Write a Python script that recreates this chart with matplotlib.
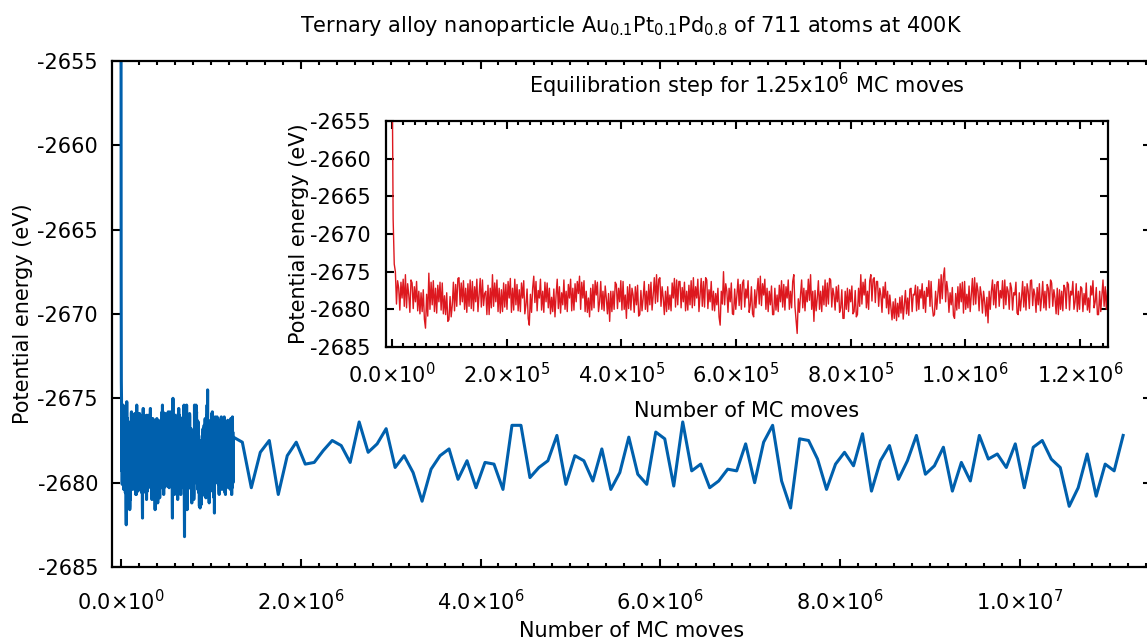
import numpy as np
import matplotlib
matplotlib.use("Agg")
import matplotlib.pyplot as plt
from matplotlib.ticker import MultipleLocator, FuncFormatter

plt.rcParams['font.family'] = ['DejaVu Sans']
plt.rcParams['axes.unicode_minus'] = False
plt.rcParams['mathtext.fontset'] = 'dejavusans'

# ---- data -------------------------------------------------------------
# Equilibration run (0 .. 1.25e6 MC moves), potential energy in eV
equil_energy = np.array([
    -2645.0, -2668.0, -2674.0,
    -2675.0, -2679.3, -2676.2, -2677.2, -2680.1, -2676.4, -2678.5, -2676.0, -2679.6,
    -2675.4, -2679.8, -2676.6, -2678.1, -2680.4, -2676.1, -2676.5, -2679.9, -2677.0,
    -2679.0, -2676.3, -2680.2, -2677.6, -2680.6, -2677.8, -2680.3, -2677.4, -2681.3,
    -2682.5, -2678.0, -2680.9, -2675.2, -2680.0, -2676.4, -2679.4, -2676.2, -2680.3,
    -2677.2, -2680.5, -2676.8, -2679.0, -2676.4, -2680.1, -2676.5, -2680.6, -2678.2,
    -2680.7, -2677.8, -2681.6, -2681.4, -2678.3, -2681.0, -2679.4, -2676.4, -2680.2,
    -2676.7, -2679.6, -2675.9, -2675.8, -2679.4, -2676.5, -2679.0, -2676.2, -2680.0,
    -2677.2, -2680.4, -2676.6, -2679.6, -2676.1, -2679.9, -2676.3, -2680.2, -2677.0,
    -2679.0, -2676.0, -2680.3, -2678.1, -2675.9, -2679.7, -2676.1, -2679.5, -2677.9,
    -2677.6, -2680.7, -2676.8, -2680.7, -2677.2, -2679.8, -2675.4, -2679.6, -2676.5,
    -2679.0, -2676.1, -2680.3, -2677.2, -2680.5, -2677.4, -2680.3, -2676.5, -2679.7,
    -2676.7, -2680.0, -2676.3, -2678.5, -2675.9, -2680.4, -2677.2, -2680.1, -2676.0,
    -2679.4, -2676.7, -2680.2, -2677.4, -2680.3, -2676.5, -2678.5, -2676.2, -2680.6,
    -2679.4, -2677.3, -2681.2, -2682.1, -2678.0, -2680.4, -2677.2, -2675.6, -2679.1,
    -2676.3, -2680.2, -2677.5, -2678.5, -2676.0, -2680.1, -2677.6, -2680.4, -2676.4,
    -2679.0, -2676.5, -2679.8, -2677.2, -2680.6, -2678.4, -2680.3, -2677.3, -2681.0,
    -2678.1, -2676.0, -2679.9, -2677.0, -2680.5, -2677.8, -2679.4, -2676.1, -2680.0,
    -2677.6, -2680.3, -2676.7, -2678.5, -2676.0, -2680.2, -2677.2, -2680.1, -2676.6,
    -2679.0, -2676.3, -2677.9, -2675.6, -2680.0, -2676.4, -2678.5, -2676.2, -2680.3,
    -2677.6, -2680.4, -2678.5, -2681.0, -2677.2, -2680.1, -2676.7, -2679.8, -2676.2,
    -2678.1, -2676.4, -2680.3, -2679.0, -2676.3, -2680.0, -2677.6, -2680.2, -2676.9,
    -2678.5, -2680.6, -2677.9, -2681.6, -2677.6, -2680.3, -2677.6, -2680.0, -2676.4,
    -2676.7, -2679.9, -2677.2, -2679.0, -2676.2, -2680.1, -2676.3, -2680.0, -2678.1,
    -2681.2, -2677.0, -2679.9, -2676.7, -2680.1, -2677.2,
    -2678.1, -2680.4, -2677.0, -2679.4, -2676.8, -2680.9, -2680.7, -2677.5, -2680.2,
    -2678.5, -2676.3, -2680.0, -2677.6, -2680.3, -2676.7, -2679.4, -2676.4, -2680.1,
    -2678.1, -2675.8, -2679.2, -2675.4, -2679.0, -2676.0, -2675.8, -2679.6, -2677.0,
    -2678.5, -2680.7, -2677.6, -2680.3, -2677.0, -2680.0, -2678.1, -2680.2, -2676.5,
    -2678.5, -2675.9, -2679.7, -2676.1, -2679.4, -2676.3, -2676.3, -2679.8, -2677.1,
    -2679.0, -2676.4, -2680.2, -2677.6, -2680.1, -2676.8, -2679.4, -2676.2, -2679.8,
    -2675.8, -2679.5, -2677.0, -2678.5, -2676.0, -2680.3, -2678.1, -2675.9, -2679.6,
    -2676.3, -2679.7, -2675.8, -2676.1, -2679.9, -2677.4, -2679.0, -2676.3, -2680.1,
    -2677.6, -2680.2, -2677.9, -2679.4, -2677.2, -2681.0, -2682.1, -2677.6, -2679.3,
    -2675.0, -2679.4, -2676.6, -2677.6, -2680.4, -2677.2, -2679.0, -2676.5, -2680.6,
    -2680.7, -2677.3, -2680.0, -2678.1, -2676.0, -2679.5, -2676.7, -2680.0, -2676.5,
    -2676.1, -2679.7, -2677.3, -2678.5, -2676.2, -2680.4, -2679.4, -2677.0, -2680.6,
    -2681.0, -2677.4, -2679.8, -2677.6, -2675.9, -2679.3, -2675.6, -2679.5, -2676.6,
    -2678.1, -2676.0, -2680.0, -2677.2, -2680.3, -2677.6, -2679.4, -2676.9, -2680.7,
    -2680.7, -2677.2, -2680.1, -2678.1, -2680.3, -2676.8, -2679.0, -2676.2, -2679.7,
    -2676.7, -2680.1, -2677.0, -2678.5, -2676.1, -2680.0, -2677.6, -2679.8, -2676.3,
    -2675.4, -2679.6, -2681.4, -2683.2, -2678.6, -2680.4, -2678.1, -2676.1, -2679.8,
    -2677.2, -2680.2, -2677.5, -2679.0, -2676.0, -2678.8, -2675.4, -2680.0, -2677.6,
    -2681.6, -2677.5, -2680.2, -2678.5, -2676.2, -2680.0, -2677.6, -2680.3, -2676.9,
    -2679.4, -2676.1, -2679.6, -2676.5, -2679.3, -2675.9, -2676.1, -2679.7, -2677.2,
    -2678.1, -2680.1, -2677.0, -2679.0, -2676.8, -2680.4, -2679.8, -2677.4, -2681.2,
    -2681.2, -2677.6, -2680.0, -2677.2, -2680.3, -2677.4, -2679.0, -2676.9, -2680.6,
    -2680.3, -2677.5, -2681.0, -2680.7, -2677.2, -2679.6, -2675.4, -2679.3, -2676.4,
    -2678.1, -2676.0, -2679.8, -2677.6, -2680.0, -2676.2, -2675.4, -2678.9, -2676.0,
    -2675.8, -2679.1, -2676.3, -2676.3, -2679.6, -2677.2, -2678.1, -2680.4, -2677.0,
    -2678.5, -2676.4, -2679.8, -2677.6, -2680.6, -2678.1, -2679.8, -2681.4, -2679.0,
    -2681.2, -2678.6, -2681.5, -2679.2, -2681.0, -2678.4, -2680.5, -2678.2, -2681.3,
    -2679.4, -2677.5, -2680.6, -2678.5, -2680.8, -2677.3, -2677.2, -2680.3, -2678.0,
    -2678.1, -2676.8, -2680.2, -2677.0, -2680.0, -2677.4, -2678.5, -2676.6, -2679.9,
    -2677.6, -2680.4, -2677.1, -2678.3, -2676.2, -2679.6, -2676.3, -2679.5, -2680.9,
    -2680.7, -2677.6, -2680.0, -2678.1, -2676.0, -2679.2, -2675.4, -2678.6, -2675.6,
    -2674.5, -2679.0, -2676.3, -2677.6, -2680.4, -2677.8, -2679.4, -2677.1, -2680.8,
    -2681.2, -2677.9, -2680.1, -2677.0, -2679.9, -2676.6, -2679.0, -2676.4, -2680.5,
    -2676.3, -2680.0, -2678.0, -2679.8, -2676.9, -2680.3, -2678.1, -2675.9, -2679.4,
    -2675.8, -2679.3, -2676.5, -2677.6, -2680.2, -2677.0, -2678.1, -2680.5, -2677.6,
    -2679.0, -2680.9, -2678.4, -2681.8, -2677.6, -2680.0, -2677.6, -2676.1, -2679.4,
    -2676.7, -2679.8, -2676.4, -2676.3, -2679.6, -2677.5, -2678.5, -2676.2, -2679.9,
    -2676.1, -2679.4, -2677.0, -2677.6, -2680.0, -2676.5, -2677.2, -2680.1, -2677.8,
    -2678.1, -2676.4, -2680.5, -2680.7, -2677.8, -2680.2, -2678.5, -2676.3, -2679.7,
    -2677.0, -2680.1, -2676.6, -2677.6, -2679.9, -2676.2, -2676.1, -2679.5, -2677.3,
    -2678.1, -2680.4, -2677.1, -2679.4, -2676.6, -2680.2, -2678.5, -2676.3, -2679.8,
    -2677.6, -2680.1, -2676.7, -2677.2, -2679.8, -2676.1, -2676.5, -2679.6, -2677.4,
    -2678.5, -2680.6, -2677.2, -2680.7, -2677.4, -2680.0, -2677.6, -2680.2, -2676.8,
    -2677.2, -2679.9, -2676.4, -2676.7, -2680.1, -2677.6, -2678.1, -2676.3, -2680.0,
    -2679.0, -2676.6, -2680.3, -2677.6, -2680.0, -2677.0, -2677.2, -2680.3, -2677.9,
    -2679.4, -2676.5, -2680.1, -2678.5, -2680.4, -2676.9, -2678.1, -2676.2, -2679.8,
    -2679.0, -2677.1, -2680.7, -2680.7, -2677.6, -2680.3, -2678.1, -2676.1, -2679.6,
    -2677.0, -2680.0, -2677.4, -2678.5,
])
equil_moves = np.linspace(0, 1.25e6, len(equil_energy))

# Production run, sampled every 1e5 MC moves starting at 1.25e6
prod_energy = np.array([
    -2677.3, -2677.6, -2680.3, -2678.2, -2677.5, -2680.7, -2678.4, -2677.6, -2678.9, -2678.8,
    -2678.1, -2677.5, -2677.8, -2678.8, -2676.4, -2678.2, -2677.7, -2676.8, -2679.1, -2678.4,
    -2679.4, -2681.1, -2679.2, -2678.4, -2678.0, -2679.8, -2678.7, -2680.3, -2678.8, -2678.9,
    -2680.4, -2676.6, -2676.6, -2679.7,
    -2679.1, -2678.7, -2677.2, -2680.1, -2678.4, -2678.7, -2679.9, -2678.0, -2680.4, -2679.4,
    -2677.3, -2679.5, -2680.1, -2677.0, -2677.4, -2680.2, -2676.4, -2679.3, -2678.9, -2680.3,
    -2679.9, -2679.2, -2679.3, -2677.7, -2680.0, -2677.6, -2676.6, -2679.9, -2681.5, -2677.4,
    -2677.5, -2678.6, -2680.4,
    -2678.9, -2678.2, -2679.0, -2677.1, -2680.5, -2678.7, -2677.8, -2679.8, -2678.7, -2677.2,
    -2679.5, -2679.0, -2677.9, -2680.5, -2678.8, -2679.9, -2677.2, -2678.6, -2678.3, -2679.1,
    -2677.7, -2680.3, -2677.9, -2677.5, -2678.6, -2679.1, -2681.4, -2680.3, -2678.3, -2680.8,
    -2678.9, -2679.3, -2677.2,
])
prod_step = 1e5
prod_moves = 1.25e6 + prod_step * np.arange(len(prod_energy))

all_moves = np.concatenate([equil_moves, prod_moves])
all_energy = np.concatenate([equil_energy, prod_energy])

main_title = r'Ternary alloy nanoparticle Au$_{0.1}$Pt$_{0.1}$Pd$_{0.8}$ of 711 atoms at 400K'
inset_title = r'Equilibration step for 1.25x10$^6$ MC moves'
xlabel_text = 'Number of MC moves'
ylabel_text = 'Potential energy (eV)'

# ---- figure -------------------------------------------------------------
W, H = 1147, 642
FS = 15
fig = plt.figure(figsize=(W / 100, H / 100), dpi=100)


def frac(x0, y0, x1, y1):
    return [x0 / W, 1 - y1 / H, (x1 - x0) / W, (y1 - y0) / H]


def sci_fmt(v, pos):
    if abs(v) < 1e-9:
        return r'$0.0{\times}10^{0}$'
    e = int(np.floor(np.log10(abs(v)) + 1e-9))
    m = v / 10 ** e
    return r'$%.1f{\times}10^{%d}$' % (m, e)


def style(ax, xmajor, xminor, xpad, ypad):
    ax.xaxis.set_major_locator(MultipleLocator(xmajor))
    ax.xaxis.set_minor_locator(MultipleLocator(xminor))
    ax.yaxis.set_major_locator(MultipleLocator(5))
    ax.xaxis.set_major_formatter(FuncFormatter(sci_fmt))
    ax.tick_params(which='both', direction='in', top=True, right=True,
                   width=1.5, labelsize=FS)
    ax.tick_params(which='major', length=5.5)
    ax.tick_params(which='minor', length=2.8)
    ax.tick_params(axis='x', which='major', pad=xpad)
    ax.tick_params(axis='y', which='major', pad=ypad)
    for s in ax.spines.values():
        s.set_linewidth(1.6)


ax = fig.add_axes(frac(112, 61, 1151, 567))
ax.plot(all_moves, all_energy, color='#0060ad', lw=2.2)
ax.set_xlim(-1e5, 11.46e6)
ax.set_ylim(-2685, -2655)
style(ax, 2e6, 2e5, 16, 10)
ax.set_title(main_title, fontsize=FS, pad=21)
ax.set_xlabel(xlabel_text, fontsize=FS, labelpad=5)
ax.set_ylabel(ylabel_text, fontsize=FS, labelpad=3)

axi = fig.add_axes(frac(386, 121, 1108, 347))
axi.plot(equil_moves, equil_energy, color='#dd181f', lw=1.0)
axi.set_xlim(-1.05e4, 1.249e6)
axi.set_ylim(-2685, -2655)
style(axi, 2e5, 2e4, 11, 11)
axi.set_title(inset_title, fontsize=FS, pad=20)
axi.set_xlabel(xlabel_text, fontsize=FS, labelpad=10)
axi.set_ylabel(ylabel_text, fontsize=FS, labelpad=1)

fig.savefig('out.png', dpi=100)
